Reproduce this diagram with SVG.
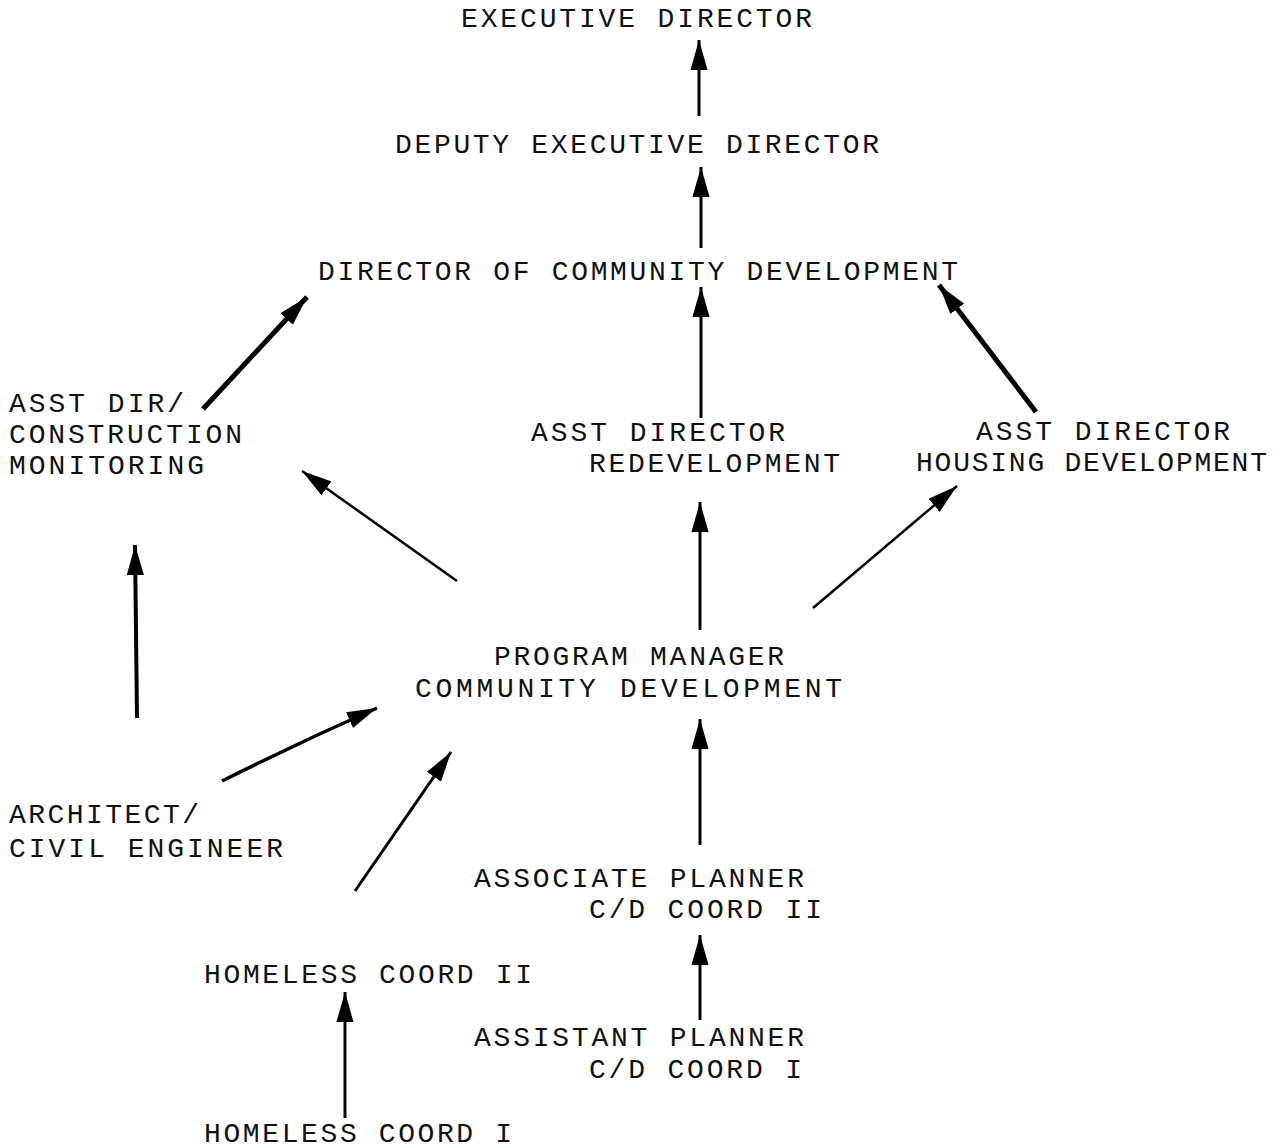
<svg xmlns="http://www.w3.org/2000/svg" width="1279" height="1148" viewBox="0 0 1279 1148">
<defs>
<style>
text { font-family: "Liberation Mono", "DejaVu Sans Mono", monospace; font-size: 28px; fill: #111; }
.c { fill: none; stroke: #000; stroke-linecap: butt; }
.w3 { stroke-width: 3; }
.w25 { stroke-width: 2.5; }
.w5 { stroke-width: 5; }
</style>
<marker id="ah" markerUnits="userSpaceOnUse" markerWidth="30" markerHeight="18" viewBox="0 0 28 16" refX="28" refY="8" orient="auto">
<path d="M0,0 L28,8 L0,16 Z" fill="#000"/>
</marker>
</defs>
<rect width="1279" height="1148" fill="#fff"/>
<g id="connectors">
<path class="c w3" d="M699,116 L699,40" marker-end="url(#ah)"/>
<path class="c w3" d="M701,248 L701,167" marker-end="url(#ah)"/>
<path class="c w3" d="M701,418 L701,287" marker-end="url(#ah)"/>
<path class="c w5" d="M203,409 L307,297" marker-end="url(#ah)"/>
<path class="c w5" d="M1036,412 L939,285" marker-end="url(#ah)"/>
<path class="c w3" d="M700,630 L700,502" marker-end="url(#ah)"/>
<path class="c w25" d="M457,581 L302,471" marker-end="url(#ah)"/>
<path class="c w25" d="M813,608 L957,486" marker-end="url(#ah)"/>
<path class="c" stroke-width="4" d="M137,718 L135,545" marker-end="url(#ah)"/>
<path class="c" stroke-width="3.5" d="M222,781 Q300,742 377,708" marker-end="url(#ah)"/>
<path class="c w3" d="M355,891 L451,752" marker-end="url(#ah)"/>
<path class="c w3" d="M700,845 L700,719" marker-end="url(#ah)"/>
<path class="c w3" d="M700,1020 L700,935" marker-end="url(#ah)"/>
<path class="c w3" d="M345,1118 L345,992" marker-end="url(#ah)"/>
</g>
<g id="executive-director"><text x="461" y="27" textLength="351" lengthAdjust="spacing">EXECUTIVE DIRECTOR</text></g>
<g id="deputy-executive-director"><text x="395" y="153" textLength="484" lengthAdjust="spacing">DEPUTY EXECUTIVE DIRECTOR</text></g>
<g id="director-community-development"><text x="318" y="280" textLength="640" lengthAdjust="spacing">DIRECTOR OF COMMUNITY DEVELOPMENT</text></g>
<g id="asst-dir-construction">
<text x="9" y="412" textLength="175" lengthAdjust="spacing">ASST DIR/</text>
<text x="9" y="443" textLength="233" lengthAdjust="spacing">CONSTRUCTION</text>
<text x="9" y="474" textLength="195" lengthAdjust="spacing">MONITORING</text>
</g>
<g id="asst-director-redevelopment">
<text x="531" y="441" textLength="254" lengthAdjust="spacing">ASST DIRECTOR</text>
<text x="589" y="472" textLength="251" lengthAdjust="spacing">REDEVELOPMENT</text>
</g>
<g id="asst-director-housing">
<text x="976" y="440" textLength="254" lengthAdjust="spacing">ASST DIRECTOR</text>
<text x="916" y="471" textLength="351" lengthAdjust="spacing">HOUSING DEVELOPMENT</text>
</g>
<g id="program-manager">
<text x="494" y="665" textLength="290" lengthAdjust="spacing">PROGRAM MANAGER</text>
<text x="415" y="697" textLength="427" lengthAdjust="spacing">COMMUNITY DEVELOPMENT</text>
</g>
<g id="architect">
<text x="9" y="823" textLength="190" lengthAdjust="spacing">ARCHITECT/</text>
<text x="9" y="857" textLength="274" lengthAdjust="spacing">CIVIL ENGINEER</text>
</g>
<g id="associate-planner">
<text x="474" y="887" textLength="330" lengthAdjust="spacing">ASSOCIATE PLANNER</text>
<text x="589" y="918" textLength="233" lengthAdjust="spacing">C/D COORD II</text>
</g>
<g id="homeless-coord-ii"><text x="204" y="983" textLength="328" lengthAdjust="spacing">HOMELESS COORD II</text></g>
<g id="assistant-planner">
<text x="474" y="1046" textLength="330" lengthAdjust="spacing">ASSISTANT PLANNER</text>
<text x="589" y="1078" textLength="213" lengthAdjust="spacing">C/D COORD I</text>
</g>
<g id="homeless-coord-i"><text x="204" y="1142" textLength="308" lengthAdjust="spacing">HOMELESS COORD I</text></g>
</svg>
